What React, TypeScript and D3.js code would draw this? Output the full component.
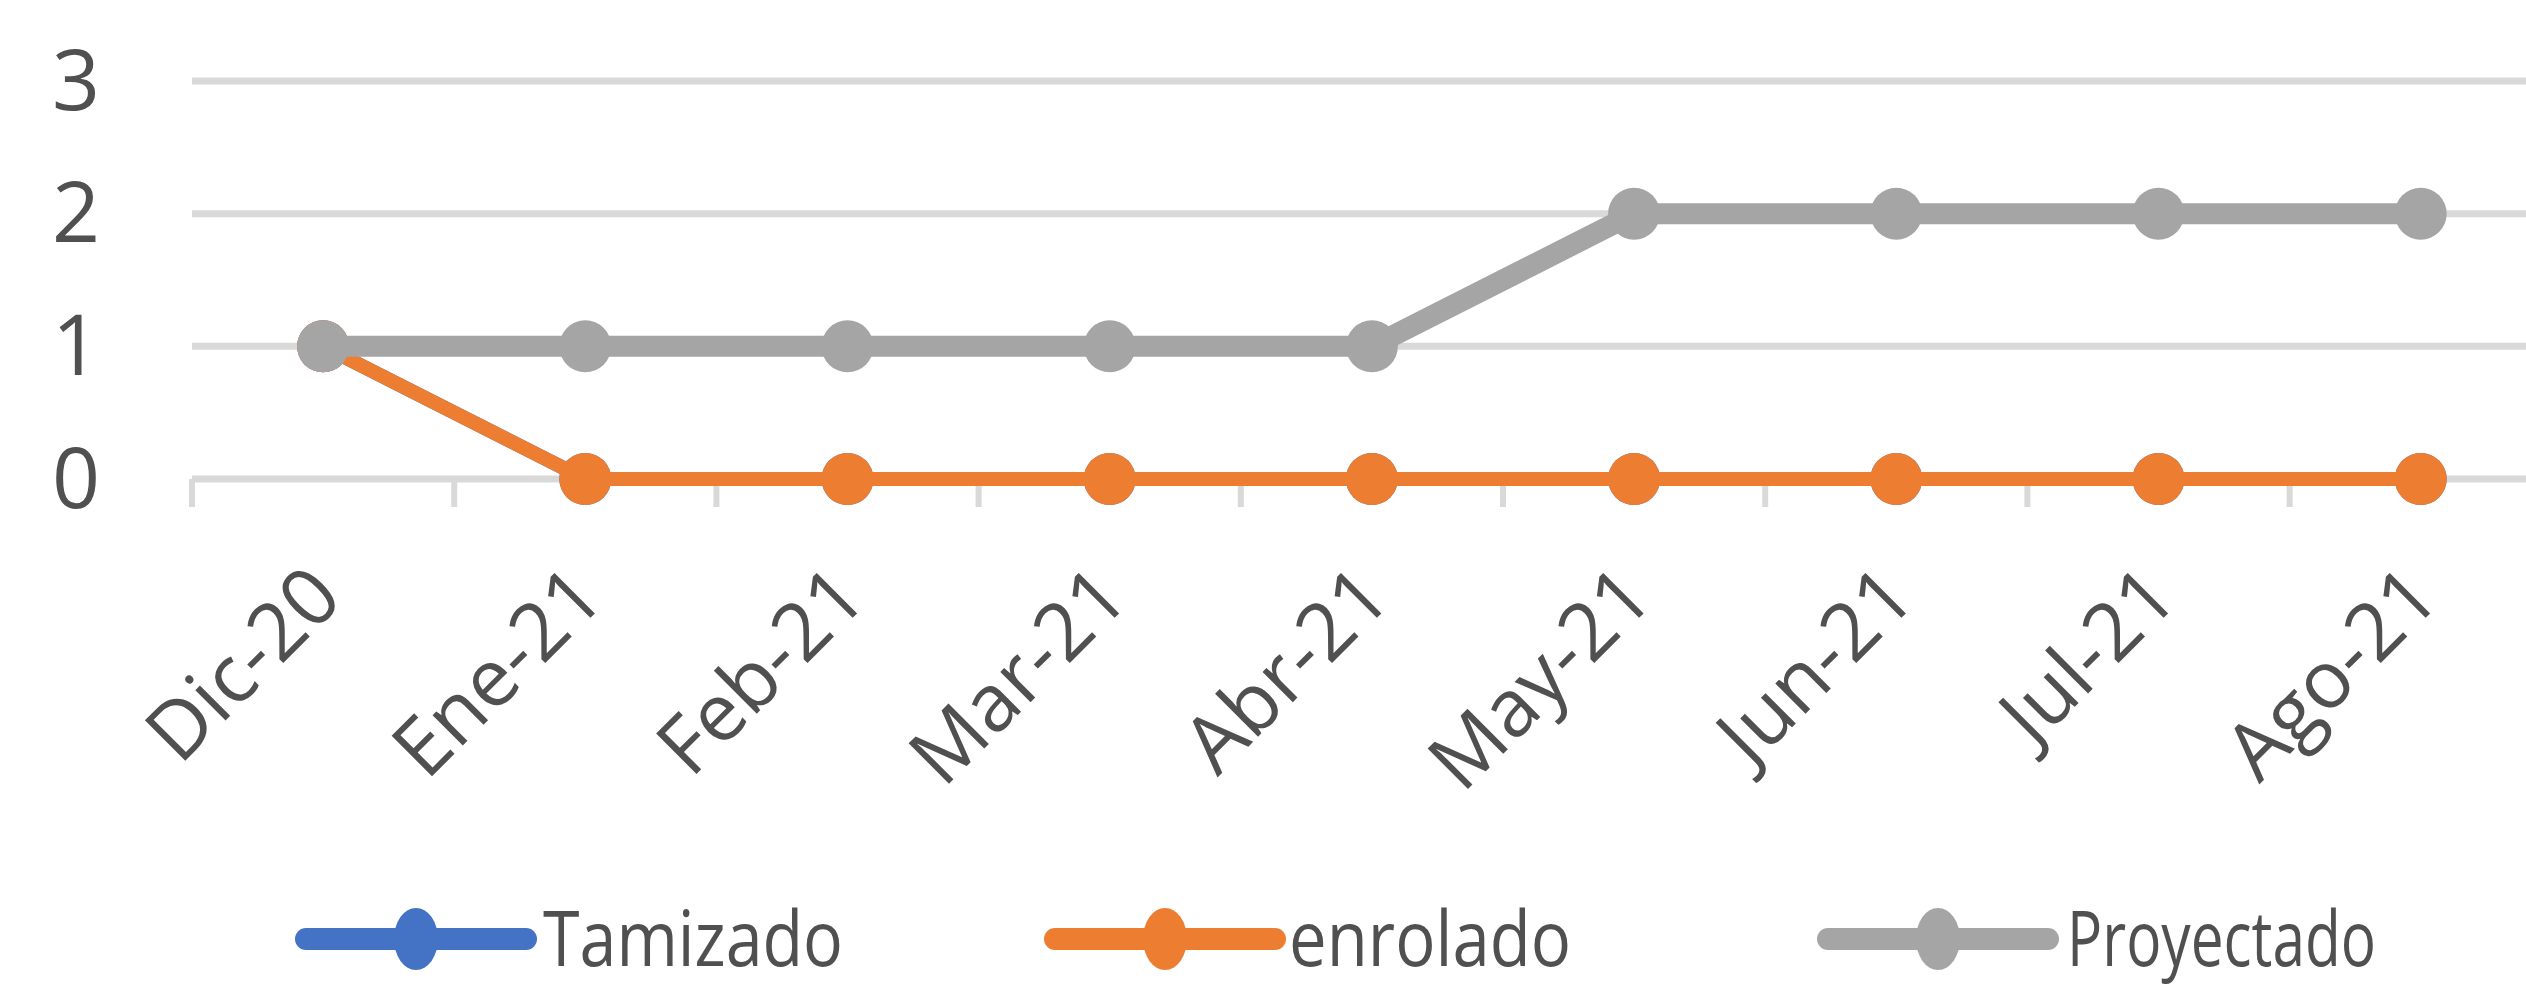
import React, { useEffect, useRef } from 'react';
import * as d3 from 'd3';

const categories = ['Dic-20', 'Ene-21', 'Feb-21', 'Mar-21', 'Abr-21', 'May-21', 'Jun-21', 'Jul-21', 'Ago-21'];
const tamizado = [1, 0, 0, 0, 0, 0, 0, 0, 0];
const enrolado = [1, 0, 0, 0, 0, 0, 0, 0, 0];
const proyectado = [1, 1, 1, 1, 1, 2, 2, 2, 2];
const yTicks = [0, 1, 2, 3];

const seriesNames = ['Tamizado', 'enrolado', 'Proyectado'];
const seriesColors = ['#4472c4', '#ed7d31', '#a5a5a5'];

const W = 2526;
const H = 989;

const App: React.FC = () => {
  const svgRef = useRef<SVGSVGElement | null>(null);

  useEffect(() => {
    if (!svgRef.current) return;
    const svg = d3.select(svgRef.current);
    svg.selectAll('*').remove();

    const left = 192;
    const step = 262.2;
    const x = d3.scaleBand().domain(categories).range([left, left + step * categories.length]);
    const y = d3.scaleLinear().domain([0, 3]).range([479, 81]);
    const cx = (c: string) => x(c)! + x.bandwidth() / 2;
    const font = '"Open Sans", "DejaVu Sans", sans-serif';
    const textColor = '#505050';

    // gridlines
    svg.append('g')
      .selectAll('line')
      .data(yTicks)
      .enter()
      .append('line')
      .attr('x1', left)
      .attr('x2', W + 40)
      .attr('y1', d => y(d))
      .attr('y2', d => y(d))
      .attr('stroke', '#d9d9d9')
      .attr('stroke-width', 7);

    // tick marks at category boundaries
    const bounds = d3.range(categories.length + 1).map(i => left + i * step);
    svg.append('g')
      .selectAll('line')
      .data(bounds)
      .enter()
      .append('line')
      .attr('x1', d => d)
      .attr('x2', d => d)
      .attr('y1', y(0))
      .attr('y2', y(0) + 28)
      .attr('stroke', '#d9d9d9')
      .attr('stroke-width', 6);

    // y labels
    svg.append('g')
      .selectAll('text')
      .data(yTicks)
      .enter()
      .append('text')
      .attr('x', 100)
      .attr('y', d => y(d))
      .attr('dy', '0.34em')
      .attr('text-anchor', 'end')
      .attr('font-family', font)
      .attr('font-size', 84)
      .attr('fill', textColor)
      .text(d => d);

    // x labels
    svg.append('g')
      .selectAll('text')
      .data(categories)
      .enter()
      .append('text')
      .attr('transform', d => `translate(${cx(d) + 22},${601}) rotate(-45)`)
      .attr('text-anchor', 'end')
      .attr('font-family', font)
      .attr('font-size', 80)
      .attr('fill', textColor)
      .text(d => d);

    // series
    const allSeries = [tamizado, enrolado, proyectado];
    const widths = [14, 14, 21];
    allSeries.forEach((vals, si) => {
      const pts = vals.map((v, i) => [cx(categories[i]), y(v)] as [number, number]);
      svg.append('path')
        .attr('d', d3.line()(pts)!)
        .attr('fill', 'none')
        .attr('stroke', seriesColors[si])
        .attr('stroke-width', widths[si])
        .attr('stroke-linejoin', 'round')
        .attr('stroke-linecap', 'round');
      svg.append('g')
        .selectAll('circle')
        .data(pts)
        .enter()
        .append('circle')
        .attr('cx', d => d[0])
        .attr('cy', d => d[1])
        .attr('r', 26)
        .attr('fill', seriesColors[si]);
    });

    // legend
    const legendY = 939;
    const legendItems = [
      { x0: 295, tx: 543, tl: 300 },
      { x0: 1044, tx: 1289, tl: 282 },
      { x0: 1817, tx: 2067, tl: 309 },
    ];
    legendItems.forEach((it, i) => {
      const g = svg.append('g');
      g.append('line')
        .attr('x1', it.x0 + 11)
        .attr('x2', it.x0 + 231)
        .attr('y1', legendY)
        .attr('y2', legendY)
        .attr('stroke', seriesColors[i])
        .attr('stroke-width', 22)
        .attr('stroke-linecap', 'round');
      g.append('ellipse')
        .attr('cx', it.x0 + 121)
        .attr('cy', legendY)
        .attr('rx', 22)
        .attr('ry', 31)
        .attr('fill', seriesColors[i]);
      g.append('text')
        .attr('x', it.tx)
        .attr('y', legendY)
        .attr('dy', '0.36em')
        .attr('font-family', font)
        .attr('font-size', 76)
        .attr('fill', textColor)
        .attr('textLength', it.tl)
        .attr('lengthAdjust', 'spacingAndGlyphs')
        .text(seriesNames[i]);
    });
  }, []);

  return (
    <svg
      ref={svgRef}
      width={W}
      height={H}
      style={{ position: 'absolute', left: 0, top: 0, background: '#fff' }}
    />
  );
};

export default App;
